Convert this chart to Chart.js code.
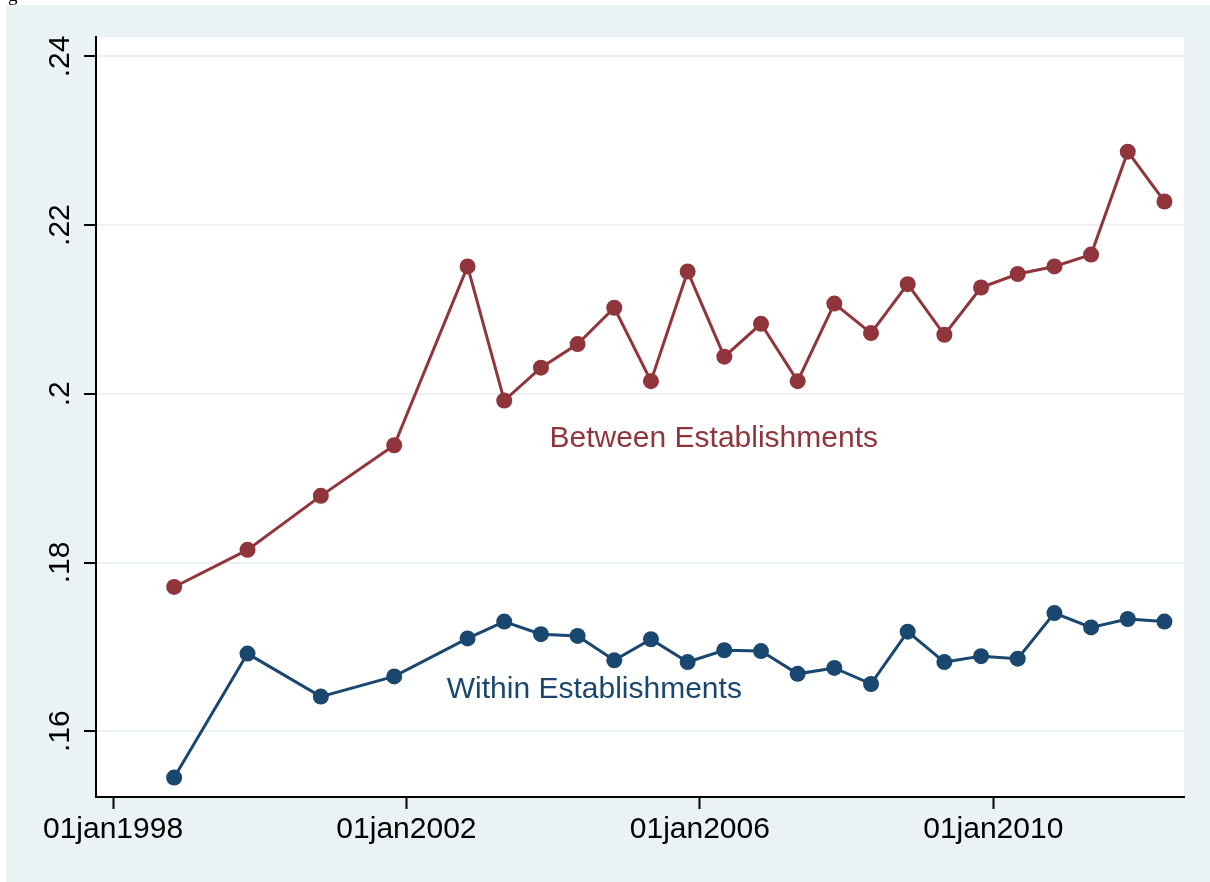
<!DOCTYPE html>
<html>
<head>
<meta charset="utf-8">
<script src="https://cdn.jsdelivr.net/npm/chart.js@4.4.1/dist/chart.umd.min.js"></script>
<style>
  body { margin: 0; background: #ffffff; }
  #wrap { position: relative; width: 1210px; height: 882px; overflow: hidden; }
  #myChart { position: absolute; left: 0; top: 0; }
  #cut { position: absolute; left: 8px; top: -16px; font-family: "Liberation Serif", serif; font-size: 19px; color: #000; }
</style>
</head>
<body>
<div id="wrap">
  <canvas id="myChart" width="1210" height="882"></canvas>
  <div id="cut">g</div>
</div>
<script>
// survey dates (year-month)
const dates = ['1998-11', '1999-11', '2000-11', '2001-11', '2002-11', '2003-05', '2003-11', '2004-05',
    '2004-11', '2005-05', '2005-11', '2006-05', '2006-11', '2007-05', '2007-11', '2008-05',
    '2008-11', '2009-05', '2009-11', '2010-05', '2010-11', '2011-05', '2011-11', '2012-05'];

const betweenVals = [0.1771, 0.1815, 0.1879, 0.1939, 0.2151, 0.1992, 0.2031, 0.2059,
    0.2102, 0.2015, 0.2145, 0.2044, 0.2083, 0.2015, 0.2107, 0.2072,
    0.2130, 0.2070, 0.2126, 0.2142, 0.2151, 0.2165, 0.2287, 0.2228];

const withinVals = [0.1545, 0.1692, 0.1641, 0.1665, 0.1710, 0.1730, 0.1715, 0.1713,
    0.1684, 0.1709, 0.1682, 0.1696, 0.1695, 0.1668, 0.1675, 0.1656,
    0.1718, 0.1682, 0.1689, 0.1686, 0.1740, 0.1723, 0.1733, 0.1730];

const xTickYears = [1998, 2002, 2006, 2010];
const xTickLabels = ['01jan1998', '01jan2002', '01jan2006', '01jan2010'];
const yTickVals = [0.16, 0.18, 0.20, 0.22, 0.24];
const yTickLabels = ['.16', '.18', '.2', '.22', '.24'];

const seriesNames = ['Between Establishments', 'Within Establishments'];

const red = '#90353b';
const blue = '#1a476f';
const bgGray = '#eaf2f3';

function toYear(s) {
    const parts = s.split('-');
    return Number(parts[0]) + (Number(parts[1]) - 1) / 12;
}

function points(vals) {
    return dates.map((d, i) => ({ x: toYear(d), y: vals[i] }));
}

const backdrop = {
    id: 'backdrop',
    beforeDraw(chart) {
        const ctx = chart.ctx;
        const a = chart.chartArea;
        ctx.save();
        ctx.fillStyle = '#ffffff';
        ctx.fillRect(0, 0, chart.width, chart.height);
        ctx.fillStyle = bgGray;
        ctx.fillRect(6, 5, chart.width - 6, chart.height - 5);
        ctx.fillStyle = '#ffffff';
        ctx.fillRect(a.left, a.top, a.right - a.left, a.bottom - a.top);
        ctx.restore();
    }
};

const labels = {
    id: 'labels',
    afterDraw(chart) {
        const ctx = chart.ctx;
        const xs = chart.scales.x;
        const ys = chart.scales.y;
        ctx.save();
        // y tick labels, reading bottom to top
        ctx.fillStyle = '#000';
        ctx.font = '30px "Liberation Sans", Arial, sans-serif';
        ctx.textAlign = 'center';
        ctx.textBaseline = 'alphabetic';
        yTickVals.forEach((v, i) => {
            ctx.save();
            ctx.translate(69, ys.getPixelForValue(v));
            ctx.rotate(-Math.PI / 2);
            ctx.fillText(yTickLabels[i], 0, 0);
            ctx.restore();
        });
        // series labels
        ctx.textAlign = 'left';
        ctx.fillStyle = red;
        ctx.fillText(seriesNames[0], xs.getPixelForValue(2003.95), ys.getPixelForValue(0.1937));
        ctx.fillStyle = blue;
        ctx.fillText(seriesNames[1], xs.getPixelForValue(2002.55), ys.getPixelForValue(0.1639));
        ctx.restore();
    }
};

const ctx = document.getElementById('myChart');

const myChart = new Chart(ctx, {
    type: 'line',
    plugins: [backdrop, labels],
    data: {
        datasets: [{
            label: seriesNames[0],
            data: points(betweenVals),
            borderColor: red,
            backgroundColor: red,
            pointBackgroundColor: red,
            borderWidth: 3,
            pointRadius: 8,
            pointBorderWidth: 0,
            tension: 0
        }, {
            label: seriesNames[1],
            data: points(withinVals),
            borderColor: blue,
            backgroundColor: blue,
            pointBackgroundColor: blue,
            borderWidth: 3,
            pointRadius: 8,
            pointBorderWidth: 0,
            tension: 0
        }]
    },
    options: {
        responsive: false,
        animation: false,
        devicePixelRatio: 1,
        layout: {
            padding: { left: 0, top: 37, right: 26, bottom: 0 }
        },
        plugins: {
            legend: { display: false },
            tooltip: { enabled: false }
        },
        scales: {
            x: {
                type: 'linear',
                min: 1997.768,
                max: 2012.60,
                afterBuildTicks: scale => {
                    scale.ticks = xTickYears.map(v => ({ value: v }));
                },
                afterFit: scale => {
                    scale.height = 85;
                },
                ticks: {
                    color: '#000',
                    padding: 3,
                    maxRotation: 0,
                    font: { size: 30, family: '"Liberation Sans", Arial, sans-serif' },
                    callback: (v) => xTickLabels[xTickYears.indexOf(v)]
                },
                grid: {
                    drawOnChartArea: false,
                    tickLength: 12,
                    tickColor: '#000',
                    tickWidth: 2
                },
                border: { color: '#000', width: 2 }
            },
            y: {
                min: 0.1522,
                max: 0.2423,
                afterBuildTicks: scale => {
                    scale.ticks = yTickVals.map(v => ({ value: v }));
                },
                afterFit: scale => {
                    scale.width = 96;
                },
                ticks: { display: false },
                grid: {
                    color: bgGray,
                    lineWidth: 2,
                    tickLength: 12,
                    tickColor: '#000',
                    tickWidth: 2
                },
                border: { color: '#000', width: 2 }
            }
        }
    }
});
</script>
</body>
</html>
